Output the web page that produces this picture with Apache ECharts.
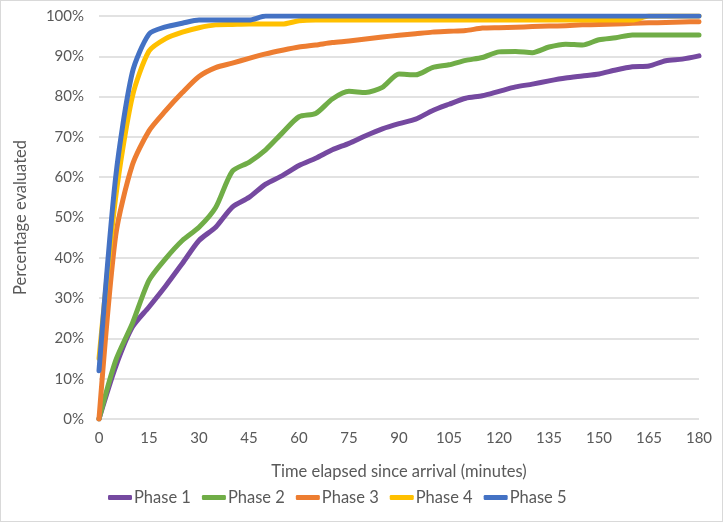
<!DOCTYPE html>
<html lang="en">
<head>
    <meta charset="UTF-8">
    <title>Percentage evaluated</title>
    <style type="text/css">
        *{
            margin: 0px;
            padding: 0px;
        }
        #chart{
            box-sizing: border-box;
            width: 723px;
            height: 522px;
            border: 1px solid #d9d9d9;
        }
    </style>
</head>
<body>
<div id="chart"></div>
<script src="https://cdn.jsdelivr.net/npm/echarts@6/dist/echarts.min.js"></script>
<script type="text/javascript">
  // minutes since arrival, every 5 min
  var minutes = [0,5,10,15,20,25,30,35,40,45,50,55,60,65,70,75,80,85,90,95,100,105,110,115,120,125,130,135,140,145,150,155,160,165,170,175,180];

  var phase1 = [0,13,22.8,27.8,33,38.6,44.3,47.6,52.6,55,58.3,60.4,62.9,64.7,66.8,68.4,70.3,72,73.3,74.4,76.5,78.1,79.6,80.2,81.3,82.4,83.1,83.9,84.6,85.1,85.6,86.6,87.4,87.6,88.9,89.3,90.1];
  var phase2 = [0,14.5,23.7,34.4,39.8,44.3,47.6,52.5,61.5,63.7,66.8,71,75,75.8,79.4,81.3,81,82.3,85.6,85.4,87.2,87.9,89,89.7,91.1,91.2,90.9,92.3,93,92.8,94.1,94.6,95.3,95.3,95.3,95.3,95.3];
  var phase3 = [0,45.5,63,71.5,76.5,81,85,87.2,88.3,89.5,90.6,91.5,92.3,92.8,93.4,93.8,94.3,94.8,95.2,95.6,96,96.2,96.4,97,97.1,97.2,97.4,97.5,97.6,97.8,97.9,98,98.2,98.3,98.4,98.5,98.6];
  var phase4 = [15,55,80,91.3,94.4,96,97.1,97.8,97.9,98,98,98,98.8,99,99,99,99,99,99,99,99,99,99,99,99,99,99,99,99,99,99,99,99,100,100,100,100];
  var phase5 = [12,60,86,95.5,97.3,98.2,99,99,99,99,100,100,100,100,100,100,100,100,100,100,100,100,100,100,100,100,100,100,100,100,100,100,100,100,100,100,100];

  var names = ['Phase 1','Phase 2','Phase 3','Phase 4','Phase 5'];
  var colors = ['#7549a0','#70ad47','#ed7d31','#ffc000','#4472c4'];
  var values = [phase1, phase2, phase3, phase4, phase5];

  var font = 'Lato';
  var textColor = '#595959';

  var series = [];
  for (var i = 0; i < names.length; i++) {
    var pts = [];
    for (var j = 0; j < minutes.length; j++) {
      pts.push([minutes[j], values[i][j]]);
    }
    series.push({
      name: names[i],
      type: 'line',
      data: pts,
      symbol: 'none',
      smooth: 0.25,
      lineStyle: { width: 5, color: colors[i], cap: 'round', join: 'round' },
      itemStyle: { color: colors[i] }
    });
  }

  var myChart = echarts.init(document.getElementById('chart'));
  myChart.setOption({
    animation: false,
    grid: { left: 98, right: 23, top: 15, bottom: 102, containLabel: false },
    xAxis: {
      type: 'value',
      min: 0,
      max: 180,
      interval: 15,
      name: 'Time elapsed since arrival (minutes)',
      nameLocation: 'middle',
      nameGap: 44,
      nameTextStyle: { fontFamily: font, fontSize: 16.5, color: textColor },
      axisLine: { show: false },
      axisTick: { show: false },
      splitLine: { show: false },
      axisLabel: { fontFamily: font, fontSize: 15, color: textColor, margin: 12 }
    },
    yAxis: {
      type: 'value',
      min: 0,
      max: 100,
      interval: 10,
      name: 'Percentage evaluated',
      nameLocation: 'middle',
      nameGap: 70,
      nameTextStyle: { fontFamily: font, fontSize: 16.5, color: textColor },
      axisLine: { show: false },
      axisTick: { show: false },
      splitLine: { lineStyle: { color: '#d9d9d9', width: 1.5 } },
      axisLabel: { fontFamily: font, fontSize: 15, color: textColor, margin: 15,
        formatter: function (v) { return v + '%'; } }
    },
    legend: {
      data: names,
      bottom: 10,
      left: 102,
      icon: 'roundRect',
      itemWidth: 24,
      itemHeight: 5,
      itemGap: 11,
      textStyle: { fontFamily: font, fontSize: 16.5, color: textColor, padding: [0, 0, 0, -3] }
    },
    series: series
  });
</script>
</body>
</html>
